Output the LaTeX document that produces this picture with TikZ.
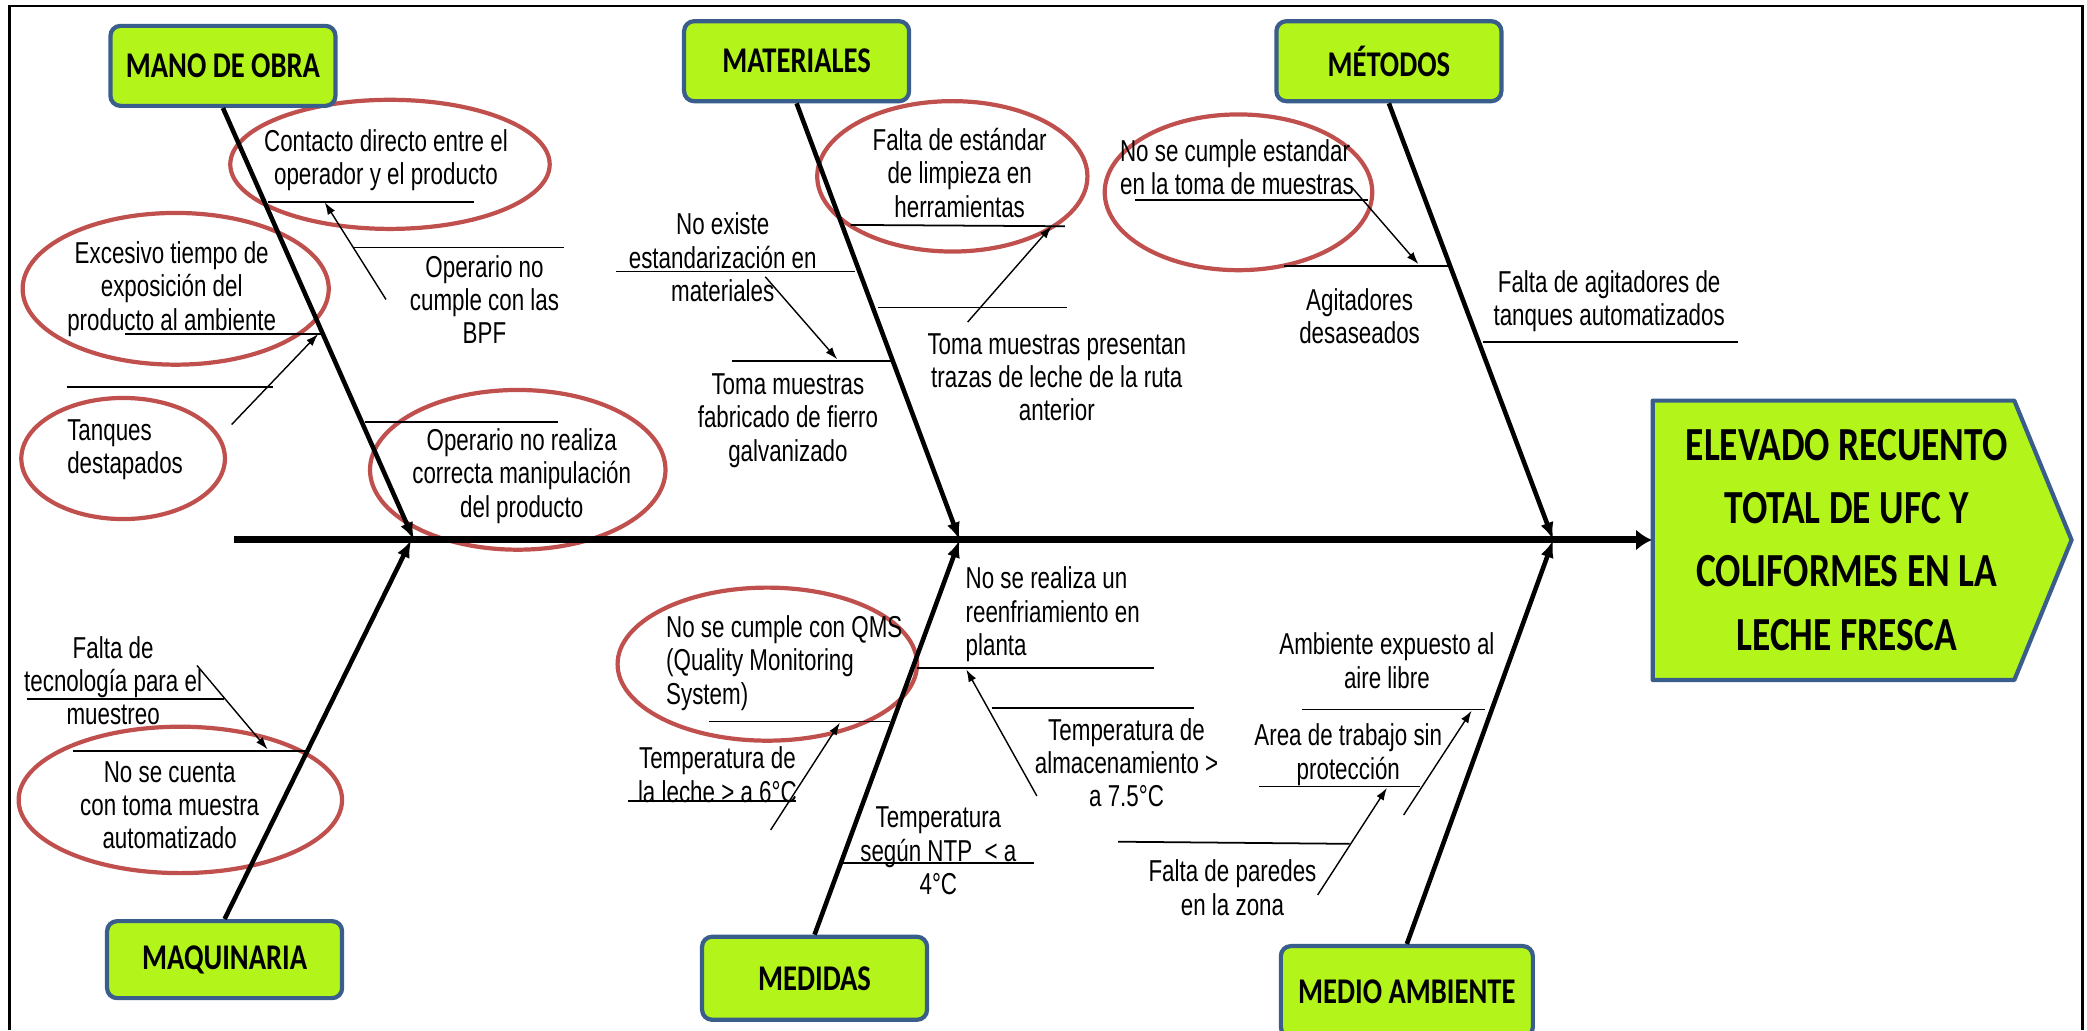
\documentclass[tikz,border=0pt]{standalone}
\usepackage{fontspec}
\setmainfont{Liberation Sans}[FakeStretch=0.74]
\newfontfamily\boxfont{Carlito}[FakeStretch=0.79]
\usepackage{tikz}
\usetikzlibrary{arrows.meta}
\definecolor{box}{HTML}{B3F51B}
\definecolor{boxline}{HTML}{3A5E8C}
\definecolor{ringred}{HTML}{C0504D}
\tikzset{cat/.style={black,draw=boxline,fill=box,rectangle,rounded corners=1mm,line width=1.2pt,minimum width=2.25cm,minimum height=0.8cm,font=\boxfont\bfseries\fontsize{10.3}{12}\selectfont}}
\tikzset{effect/.style={black,rectangle,inner sep=0pt,minimum width=3.88cm,minimum height=2.8cm,align=center,font=\boxfont\bfseries\fontsize{13.5}{18}\selectfont}}
\tikzset{effectbox/.style={draw=boxline,fill=box,line width=1.2pt,line join=round}}
\tikzset{cause/.style={black,inner sep=0pt,align=center,font=\fontsize{8.6}{9.5}\selectfont}}
\tikzset{ring/.style={draw=ringred,line width=1.2pt}}
\tikzset{twig/.style={black,line width=0.5pt}}
\tikzset{hint/.style={black,line width=0.4pt,-{Latex[length=3.5pt,width=2.4pt]}}}
\tikzset{bone/.style={black,line width=1.3pt,-{Latex[length=5pt,width=3.8pt]}}}
\tikzset{spine/.style={black,line width=2pt,-{Latex[length=4.5pt,width=6pt]}}}
\tikzset{frame/.style={black,line width=0.8pt}}

\begin{document}
\begin{tikzpicture}[x=0.1331mm,y=-0.1331mm]
    \useasboundingbox (0,0) rectangle (1568,774);
    \draw[frame] (7,774) -- (7,4.5) -- (1564.5,4.5) -- (1564.5,774);

    \draw[ring] (293,123.5) ellipse (120 and 48.5);
    \draw[ring] (132,217) ellipse (115 and 57);
    \draw[ring] (92.5,344.5) ellipse (76.5 and 45.5);
    \draw[ring] (389,353) ellipse (111 and 60);
    \draw[ring] (715.5,132.5) ellipse (101.5 and 56.5);
    \draw[ring] (930.5,144.5) ellipse (100.5 and 58.5);
    \draw[ring] (135.5,601) ellipse (121.5 and 55);
    \draw[ring] (576.5,499) ellipse (112.5 and 57.5);

    \node[cat] (mano) at (167.5,49.5) {MANO DE OBRA};

    \node[cat] (materiales) at (598.5,46) {MATERIALES};

    \node[cat] (metodos) at (1043.5,46) {MÉTODOS};

    \node[cat,minimum width=2.35cm,minimum height=0.77cm] (maquinaria) at (168.75,721) {MAQUINARIA};

    \node[cat,minimum height=0.83cm] (medidas) at (612,735) {MEDIDAS};

    \node[cat,minimum width=2.52cm,minimum height=0.91cm] (medio) at (1057,745) {MEDIO AMBIENTE};

    \draw[effectbox] (1241.7,301) -- (1513.4,301) -- (1556.4,405.7) -- (1513.4,510.9) -- (1241.7,510.9) -- cycle;
    \node[effect] (efecto) at (1387.4,405.7)
    {ELEVADO RECUENTO\\TOTAL DE UFC Y\\COLIFORMES EN LA\\LECHE FRESCA};

    \coordinate (inicio) at (176,405.7);
    \coordinate (jmano) at (311,405.7);
    \coordinate (jmaq) at (309,405.7);
    \coordinate (jmat) at (721,405.7);
    \coordinate (jmed) at (721,405.7);
    \coordinate (jmet) at (1167,405.7);
    \coordinate (jamb) at (1167,405.7);

    \node[cause] (contacto) at (290,120.5) {Contacto directo entre el\\operador y el producto};
    \node[cause] (bpf) at (364,225) {Operario no\\cumple con las\\BPF};
    \node[cause] (excesivo) at (129,217) {Excesivo tiempo de\\exposición del\\producto al ambiente};
    \node[cause,anchor=west,align=left] (tanques) at (50,338) {Tanques\\destapados};
    \node[cause] (realiza) at (392,357.5) {Operario no realiza\\correcta manipulación\\del producto};

    \node[cause] (limpieza) at (721,130) {Falta de estándar\\de limpieza en\\herramientas};
    \node[cause] (trazas) at (794,283.5) {Toma muestras presentan\\trazas de leche de la ruta\\anterior};
    \node[cause] (estandar) at (543,193.5) {No existe\\estandarización en\\materiales};
    \node[cause] (fierro) at (592,316) {Toma muestras\\fabricado de fierro\\galvanizado};

    \node[cause,anchor=west,align=left] (toma) at (841,125.5) {No se cumple estandar\\en la toma de muestras};
    \node[cause] (agitador) at (1021.5,237.5) {Agitadores\\desaseados};
    \node[cause] (tanqauto) at (1209,226.5) {Falta de agitadores de\\tanques automatizados};

    \node[cause] (tecno) at (85,511.5) {Falta de\\tecnología para el\\muestreo};
    \node[cause] (cuenta) at (127.5,605) {No se cuenta\\con toma muestra\\automatizado};

    \node[cause,anchor=west,align=left] (qms) at (500,498) {No se cumple con QMS\\(Quality Monitoring\\System)};
    \node[cause] (leche) at (539,582) {Temperatura de\\la leche > a 6°C};
    \node[cause,anchor=west,align=left] (reenfr) at (725,461.5) {No se realiza un\\reenfriamiento en\\planta};
    \node[cause] (almac) at (846.4,573) {Temperatura de\\almacenamiento >\\a 7.5°C};
    \node[cause] (ntp) at (705,639.3) {Temperatura\\según NTP \ < a\\4°C};

    \node[cause] (aire) at (1042,496.5) {Ambiente expuesto al\\aire libre};
    \node[cause] (area) at (1013,567) {Area de trabajo sin\\protección};
    \node[cause] (paredes) at (926,667) {Falta de paredes\\en la zona};

    \coordinate (contacto-a) at (201,151.5);
    \coordinate (contacto-b) at (356,151.5);
    \coordinate (bpf-a) at (265,186);
    \coordinate (bpf-b) at (424,186);
    \coordinate (excesivo-a) at (94,251);
    \coordinate (excesivo-b) at (241,251);
    \coordinate (tanques-a) at (50,291);
    \coordinate (tanques-b) at (205,291);
    \coordinate (realiza-a) at (274,317);
    \coordinate (realiza-b) at (419,317);
    \coordinate (limpieza-a) at (639,169);
    \coordinate (limpieza-b) at (800,170);
    \coordinate (trazas-a) at (660,231);
    \coordinate (trazas-b) at (801.5,231);
    \coordinate (estandar-a) at (463,204);
    \coordinate (estandar-b) at (642.5,204);
    \coordinate (fierro-a) at (550,271);
    \coordinate (fierro-b) at (672,271);
    \coordinate (toma-a) at (852.5,150);
    \coordinate (toma-b) at (1027.5,150);
    \coordinate (agitador-a) at (965,199.6);
    \coordinate (agitador-b) at (1089.5,199.6);
    \coordinate (tanqauto-a) at (1114,256.7);
    \coordinate (tanqauto-b) at (1305.7,256.7);
    \coordinate (tecno-a) at (20,525);
    \coordinate (tecno-b) at (168,525);
    \coordinate (cuenta-a) at (55,564);
    \coordinate (cuenta-b) at (231,564);
    \coordinate (qms-a) at (533,542);
    \coordinate (qms-b) at (669,542);
    \coordinate (leche-a) at (472,601.6);
    \coordinate (leche-b) at (598,601.6);
    \coordinate (reenfr-a) at (689,502);
    \coordinate (reenfr-b) at (867,502);
    \coordinate (almac-a) at (745,532);
    \coordinate (almac-b) at (897,532);
    \coordinate (ntp-a) at (633,648.6);
    \coordinate (ntp-b) at (777,648.6);
    \coordinate (paredes-a) at (840,632.4);
    \coordinate (paredes-b) at (1014,634);
    \coordinate (aire-a) at (978,533);
    \coordinate (aire-b) at (1116,533);
    \coordinate (area-a) at (946,591);
    \coordinate (area-b) at (1067,591);

    \coordinate (bpf-f) at (290,225);
    \coordinate (contacto-t) at (244,152);
    \coordinate (tanques-f) at (174,319);
    \coordinate (excesivo-t) at (239,251);
    \coordinate (trazas-f) at (727,242);
    \coordinate (limpieza-t) at (790,170);
    \coordinate (estandar-f) at (575,208);
    \coordinate (fierro-t) at (629,270);
    \coordinate (toma-f) at (1015,140);
    \coordinate (agitador-t) at (1065.7,198.5);
    \coordinate (tecno-f) at (148,500);
    \coordinate (cuenta-t) at (201,563);
    \coordinate (leche-f) at (579,623.6);
    \coordinate (qms-t) at (631,543);
    \coordinate (almac-f) at (779,598);
    \coordinate (reenfr-t) at (726,503);
    \coordinate (area-f) at (1054.6,612.3);
    \coordinate (aire-t) at (1105.6,534);
    \coordinate (paredes-f) at (990,672.4);
    \coordinate (area-t) at (1042,592);

    \draw[twig] (contacto-a) -- (contacto-b);
    \draw[twig] (bpf-a) -- (bpf-b);
    \draw[twig] (excesivo-a) -- (excesivo-b);
    \draw[twig] (tanques-a) -- (tanques-b);
    \draw[twig] (realiza-a) -- (realiza-b);
    \draw[twig] (limpieza-a) -- (limpieza-b);
    \draw[twig] (trazas-a) -- (trazas-b);
    \draw[twig] (estandar-a) -- (estandar-b);
    \draw[twig] (fierro-a) -- (fierro-b);
    \draw[twig] (toma-a) -- (toma-b);
    \draw[twig] (agitador-a) -- (agitador-b);
    \draw[twig] (tanqauto-a) -- (tanqauto-b);
    \draw[twig] (tecno-a) -- (tecno-b);
    \draw[twig] (cuenta-a) -- (cuenta-b);
    \draw[twig] (qms-a) -- (qms-b);
    \draw[twig] (leche-a) -- (leche-b);
    \draw[twig] (reenfr-a) -- (reenfr-b);
    \draw[twig] (almac-a) -- (almac-b);
    \draw[twig] (ntp-a) -- (ntp-b);
    \draw[twig] (paredes-a) -- (paredes-b);
    \draw[twig] (aire-a) -- (aire-b);
    \draw[twig] (area-a) -- (area-b);

    \draw[hint] (bpf-f) -- (contacto-t);
    \draw[hint] (tanques-f) -- (excesivo-t);
    \draw[hint] (trazas-f) -- (limpieza-t);
    \draw[hint] (estandar-f) -- (fierro-t);
    \draw[hint] (toma-f) -- (agitador-t);
    \draw[hint] (tecno-f) -- (cuenta-t);
    \draw[hint] (leche-f) -- (qms-t);
    \draw[hint] (almac-f) -- (reenfr-t);
    \draw[hint] (area-f) -- (aire-t);
    \draw[hint] (paredes-f) -- (area-t);

    \draw[spine] (inicio) -- (efecto.west);
    \draw[bone] (mano.south) -- (jmano);
    \draw[bone] (materiales.south) -- (jmat);
    \draw[bone] (metodos.south) -- (jmet);
    \draw[bone] (maquinaria.north) -- (jmaq);
    \draw[bone] (medidas.north) -- (jmed);
    \draw[bone] (medio.north) -- (jamb);
\end{tikzpicture}
\end{document}
